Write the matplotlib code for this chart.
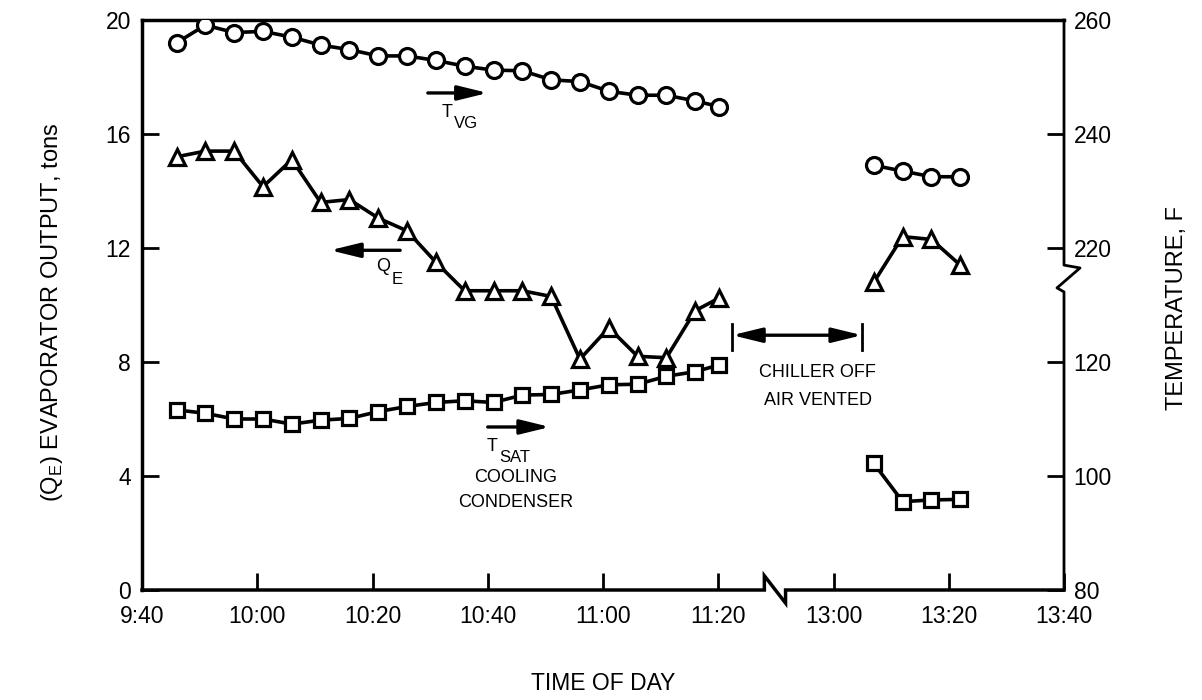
import numpy as np
import matplotlib.pyplot as plt

plt.rcParams['font.family'] = ['Liberation Sans', 'DejaVu Sans']
plt.rcParams['mathtext.fontset'] = 'custom'
plt.rcParams['mathtext.rm'] = 'Liberation Sans'

# readings before the chiller was switched off
times_am = ["9:46", "9:51", "9:56", "10:01", "10:06", "10:11", "10:16", "10:21", "10:26", "10:31",
            "10:36", "10:41", "10:46", "10:51", "10:56", "11:01", "11:06", "11:11", "11:16", "11:21"]
t_vg_am = [256.0, 259.1, 257.8, 258.0, 257.0, 255.6, 254.8, 253.7, 253.7, 252.9,
           251.9, 251.2, 251.1, 249.5, 249.2, 247.5, 246.8, 246.8, 245.8, 244.8]
q_e_am = [15.2, 15.4, 15.4, 14.15, 15.1, 13.6, 13.7, 13.05, 12.6, 11.5,
          10.5, 10.5, 10.5, 10.3, 8.1, 9.2, 8.2, 8.15, 9.8, 10.25]
t_sat_am = [111.6, 111.0, 110.0, 110.0, 109.1, 109.8, 110.1, 111.3, 112.2, 112.9,
            113.2, 112.9, 114.2, 114.3, 115.1, 116.0, 116.1, 117.5, 118.3, 119.5]

# readings after restart
times_pm = ["13:07", "13:12", "13:17", "13:22"]
t_vg_pm = [234.5, 233.5, 232.5, 232.5]
q_e_pm = [10.8, 12.4, 12.3, 11.4]
t_sat_pm = [102.2, 95.5, 95.8, 95.9]

x_ticks = ["9:40", "10:00", "10:20", "10:40", "11:00", "11:20", "13:00", "13:20", "13:40"]
q_ticks = [0, 4, 8, 12, 16, 20]
temp_ticks = [80, 100, 120, 220, 240, 260]


def minutes(s):
    h, m = s.split(":")
    return int(h) * 60 + int(m)


# broken time axis: 11:20 -> 13:00 squeezed into one tick step
def time_fwd(t):
    t = np.asarray(t, float)
    return np.where(t <= 680, (t - 580) / 20.0,
                    np.where(t >= 780, 6 + (t - 780) / 20.0, 5 + (t - 680) / 100.0))


def time_inv(p):
    p = np.asarray(p, float)
    return np.where(p <= 5, 580 + 20.0 * p,
                    np.where(p >= 6, 780 + 20.0 * (p - 6), 680 + 100.0 * (p - 5)))


# broken temperature axis: 120 -> 220 squeezed
def temp_fwd(T):
    T = np.asarray(T, float)
    return np.where(T <= 120, (T - 80) / 5.0,
                    np.where(T >= 220, 12 + (T - 220) / 5.0, 8 + (T - 120) * 0.04))


def temp_inv(v):
    v = np.asarray(v, float)
    return np.where(v <= 8, 80 + 5.0 * v,
                    np.where(v >= 12, 220 + 5.0 * (v - 12), 120 + (v - 8) / 0.04))


fig = plt.figure(figsize=(12.02, 7.0), dpi=100)
ax = fig.add_axes([142 / 1202, 110 / 700, 922 / 1202, 570 / 700])
ax.set_xscale('function', functions=(time_fwd, time_inv))
ax.set_xlim(minutes("9:40"), minutes("13:40"))
ax.set_ylim(0, 20)

ax2 = ax.twinx()
ax2.set_yscale('function', functions=(temp_fwd, temp_inv))
ax2.set_ylim(80, 260)

line_kw = dict(color='black', lw=2.6, markerfacecolor='white', markeredgecolor='black',
               markeredgewidth=2.3)

for tt, tv, qe, ts in [(times_am, t_vg_am, q_e_am, t_sat_am),
                       (times_pm, t_vg_pm, q_e_pm, t_sat_pm)]:
    xm = [minutes(s) for s in tt]
    ax2.plot(xm, tv, marker='o', markersize=11.5, **line_kw)
    ax.plot(xm, qe, marker='^', markersize=11.5, **line_kw)
    ax2.plot(xm, ts, marker='s', markersize=10, **line_kw)

ax.set_xticks([minutes(s) for s in x_ticks])
ax.set_xticklabels(x_ticks)
ax.xaxis.set_minor_locator(plt.NullLocator())
ax.set_yticks(q_ticks)
ax.set_yticklabels([str(v) for v in q_ticks])
ax2.set_yticks(temp_ticks)
ax2.set_yticklabels([str(v) for v in temp_ticks])
ax2.yaxis.set_minor_locator(plt.NullLocator())

ax.tick_params(axis='x', direction='in', length=12, width=2, labelsize=16.5, pad=11, top=False)
ax.tick_params(axis='y', direction='in', length=12, width=2, labelsize=16.5, pad=8, right=False)
ax2.tick_params(axis='y', direction='in', length=12, width=2, labelsize=16.5, pad=7)

for a in (ax, ax2):
    for s in a.spines.values():
        s.set_visible(False)
for s in ('left', 'top'):
    ax.spines[s].set_visible(True)
    ax.spines[s].set_linewidth(2.5)

# bottom spine with break mark
ax.plot([0, 0.675, 0.675, 0.698, 0.698, 1], [0, 0, 0.025, -0.023, 0, 0],
        transform=ax.transAxes, color='black', lw=2.5, clip_on=False, solid_joinstyle='miter')
# right spine with break mark
ax.plot([1, 1, 1.0174, 0.9924, 1, 1], [1, 0.570, 0.565, 0.530, 0.523, 0],
        transform=ax.transAxes, color='black', lw=2.0, clip_on=False)

arrow = dict(arrowstyle='-|>,head_length=0.9,head_width=0.22', lw=2.4, color='black',
             mutation_scale=20, shrinkA=0, shrinkB=0)
txt = dict(transform=ax.transAxes, ha='center', va='center', fontsize=13)
sub = dict(transform=ax.transAxes, ha='left', va='center', fontsize=12)

# T_VG
ax.annotate('', xy=(0.375, 0.872), xytext=(0.310, 0.872), xycoords='axes fraction',
            arrowprops=arrow)
ax.text(0.3305, 0.838, 'T', **txt)
ax.text(0.3385, 0.819, 'VG', **sub)

# Q_E
ax.annotate('', xy=(0.204, 0.596), xytext=(0.280, 0.596), xycoords='axes fraction',
            arrowprops=arrow)
ax.text(0.261, 0.567, 'Q', **txt)
ax.text(0.2705, 0.545, 'E', **sub)

# T_SAT cooling condenser
ax.annotate('', xy=(0.4425, 0.286), xytext=(0.375, 0.286), xycoords='axes fraction',
            arrowprops=arrow)
ax.text(0.380, 0.251, 'T', **txt)
ax.text(0.388, 0.232, 'SAT', **sub)
ax.text(0.405, 0.198, 'COOLING', **txt)
ax.text(0.405, 0.153, 'CONDENSER', **txt)

dbl = dict(arrow, arrowstyle='<|-|>,head_length=0.9,head_width=0.22')
ax.annotate('', xy=(0.781, 0.447), xytext=(0.640, 0.447), xycoords='axes fraction',
            arrowprops=dbl)
for xb in (0.640, 0.781):
    ax.plot([xb, xb], [0.421, 0.466], transform=ax.transAxes, color='black', lw=2)
ax.text(0.733, 0.381, 'CHILLER OFF', **txt)
ax.text(0.733, 0.333, 'AIR VENTED', **txt)

fig.text(603 / 1202, 1 - 683 / 700, 'TIME OF DAY', ha='center', va='center', fontsize=16.5)
fig.text(52 / 1202, 1 - 312 / 700, r'(Q$_{\mathrm{E}}$) EVAPORATOR OUTPUT, tons',
         ha='center', va='center', rotation=90, fontsize=17)
fig.text(1177 / 1202, 1 - 308 / 700, 'TEMPERATURE, F', ha='center', va='center',
         rotation=90, fontsize=17)

fig.savefig('out.png', dpi=100)
